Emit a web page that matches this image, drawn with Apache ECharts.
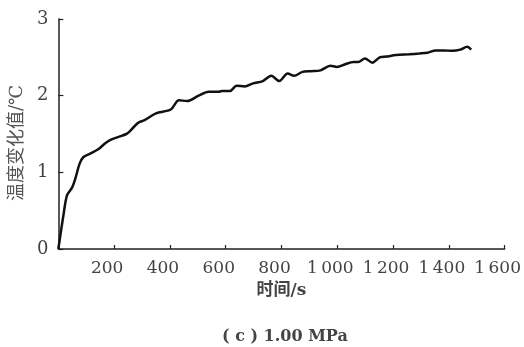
<!DOCTYPE html>
<html><head><meta charset="utf-8">
<script src="https://cdn.jsdelivr.net/npm/echarts@6/dist/echarts.min.js"></script>
<style>html,body{margin:0;padding:0;background:#fff}#c{width:524px;height:347px}</style>
</head><body><div id="c"></div>
<script>
const times = [0,19,31,49,61,76,90,114,143,167,185,214,244,255,285,309,350,403,432,462,503,539,574,586,615,639,668,698,733,763,792,822,845,875,904,940,975,999,1028,1058,1075,1099,1126,1152,1176,1211,1258,1294,1323,1353,1382,1412,1441,1465,1480];
const temps = [0,0.46,0.70,0.80,0.92,1.11,1.20,1.245,1.30,1.376,1.42,1.46,1.50,1.53,1.645,1.68,1.77,1.82,1.94,1.93,2.00,2.05,2.05,2.06,2.06,2.13,2.12,2.16,2.19,2.26,2.19,2.29,2.26,2.31,2.32,2.33,2.39,2.375,2.41,2.44,2.44,2.485,2.43,2.50,2.51,2.53,2.54,2.55,2.56,2.59,2.59,2.585,2.60,2.637,2.60];
const xTicks = {min:0, max:1600, interval:200};
const yTicks = {min:0, max:3, interval:1};
const xName = '时间/s';
const yName = '温度变化值/℃';
const caption = '( c ) 1.00 MPa';

const serif = '"DejaVu Serif", "Noto Sans CJK SC", serif';
const chart = echarts.init(document.getElementById('c'), null, {renderer:'canvas'});
chart.setOption({
  animation:false,
  backgroundColor:'#fff',
  grid:{left:55, right:18, top:19, bottom:98, containLabel:false},
  xAxis:{type:'value', min:xTicks.min, max:xTicks.max, interval:xTicks.interval,
    name:xName, nameLocation:'middle', nameGap:31,
    nameTextStyle:{fontFamily:serif, fontSize:17, color:'#444', fontWeight:'bold'},
    axisLine:{show:true, onZero:false, lineStyle:{color:'#222', width:1.5}},
    axisTick:{show:true, inside:true, length:4, lineStyle:{color:'#222', width:1.2}},
    splitLine:{show:false},
    axisLabel:{margin:11, fontFamily:serif, fontSize:17, color:'#444', padding:[0,14,0,0],
      formatter:function(v){ if(v===0) return ''; return String(v).replace(/\B(?=(\d{3})+(?!\d))/g,'\u2009'); }}
  },
  yAxis:{type:'value', min:yTicks.min, max:yTicks.max, interval:yTicks.interval,
    name:yName, nameLocation:'middle', nameGap:30, nameRotate:90,
    nameTextStyle:{fontFamily:serif, fontSize:18, color:'#555', padding:[0,18,0,0]},
    axisLine:{show:true, lineStyle:{color:'#222', width:1.5}},
    axisTick:{show:true, inside:true, length:5, lineStyle:{color:'#222', width:1.2}},
    splitLine:{show:false},
    axisLabel:{margin:10, fontFamily:serif, fontSize:18, color:'#444'}
  },
  graphic:[{type:'text', left:222, top:329,
    style:{text:caption, font:'bold 16px '+serif, fill:'#444'}}],
  series:[{type:'line', data:times.map((t,i)=>[t,temps[i]]), smooth:0.3, showSymbol:false,
    lineStyle:{color:'#111', width:2.5}}]
});
</script></body></html>
